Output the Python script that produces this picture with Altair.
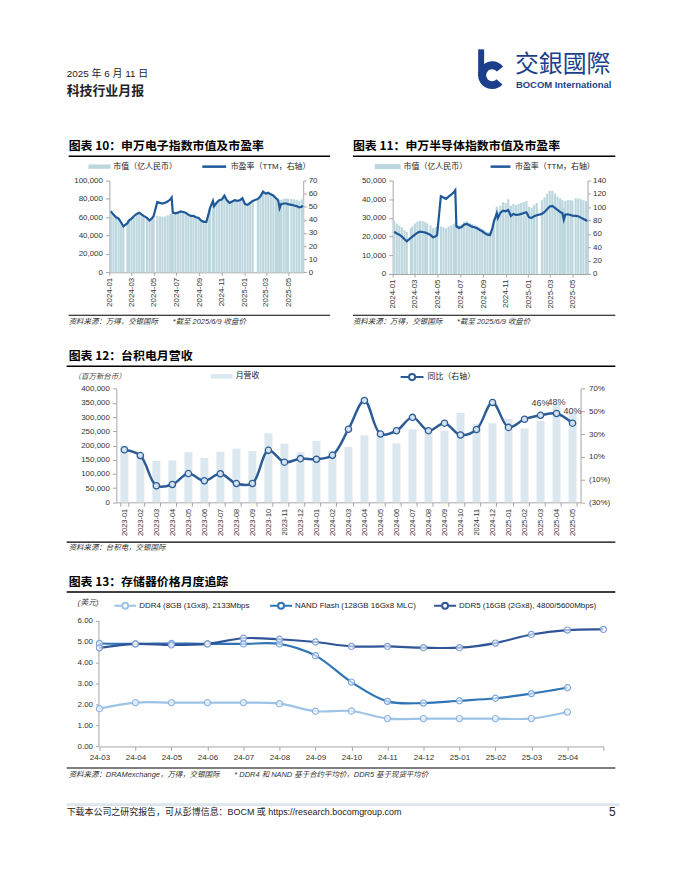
import math
import altair as alt
import pandas as pd

# ---------------- data ----------------
dates = ["2024-01-05","2024-01-12","2024-01-19","2024-01-26","2024-02-02","2024-02-08","2024-02-19","2024-02-23",
         "2024-03-01","2024-03-08","2024-03-15","2024-03-22","2024-03-29","2024-04-03","2024-04-12","2024-04-19",
         "2024-04-26","2024-04-30","2024-05-10","2024-05-17","2024-05-24","2024-05-31","2024-06-07","2024-06-14",
         "2024-06-18","2024-06-21","2024-06-28","2024-07-05","2024-07-12","2024-07-19","2024-07-26","2024-08-02",
         "2024-08-09","2024-08-16","2024-08-23","2024-08-30","2024-09-06","2024-09-13","2024-09-20","2024-09-27",
         "2024-09-30","2024-10-08","2024-10-11","2024-10-18","2024-10-25","2024-11-01","2024-11-08","2024-11-15",
         "2024-11-22","2024-11-29","2024-12-06","2024-12-13","2024-12-20","2024-12-27","2025-01-03","2025-01-10",
         "2025-01-17","2025-01-24","2025-02-07","2025-02-14","2025-02-21","2025-02-28","2025-03-07","2025-03-14",
         "2025-03-21","2025-03-28","2025-04-03","2025-04-07","2025-04-11","2025-04-18","2025-04-25","2025-04-30",
         "2025-05-09","2025-05-16","2025-05-23","2025-05-30","2025-06-06","2025-06-09"]

mc10 = [68000, 63500, 60500, 59000, 54500, 50500, 54000, 57000, 59000, 61500,
        63500, 65000, 63000, 61500, 59500, 56500, 59500, 61000, 61500, 61000,
        60500, 61000, 62000, 63000, 64000, 64500, 64000, 65000, 66000, 65500,
        65000, 63000, 61500, 61500, 60000, 59500, 56500, 55000, 55000, 65000,
        70000, 78000, 72000, 75500, 78500, 79500, 83500, 78500, 76000, 77000,
        78500, 78000, 78500, 80500, 75000, 74500, 76500, 78500, 81000, 84000,
        89000, 87000, 88000, 86500, 85000, 82500, 80500, 75000, 79000, 80000,
        80500, 80000, 80000, 79500, 79000, 77500, 78500, 80000]
pe10 = [46.5, 44, 42, 41, 38, 35, 37.5, 39.5, 41, 43,
        44.5, 45.5, 44, 43, 41.5, 39.5, 41.5, 43, 53.5, 53,
        52.5, 53, 54, 55.5, 57, 45.5, 45, 45.5, 46.5, 46,
        45.5, 44, 43, 43, 42, 41.5, 39.5, 38.5, 38.5, 45.5,
        49, 54.5, 50.5, 53, 55, 55.5, 58.5, 55, 53, 54,
        55, 54.5, 55, 56.5, 52, 51.5, 53, 54.5, 56, 58,
        61.5, 60, 60.5, 59.5, 58.5, 56.5, 55, 49, 52, 52.5,
        52.5, 52, 51.5, 51, 50.5, 49.5, 50, 51]
mc11 = [28500, 27000, 26000, 25000, 23500, 22500, 24500, 25500, 27000, 28000,
        28500, 28300, 27800, 27000, 26000, 24500, 25000, 25500, 25500, 25000,
        24500, 25500, 26000, 26800, 27500, 26500, 26000, 26500, 28000, 28300,
        27500, 26800, 26300, 25800, 25000, 24300, 23300, 22500, 22300, 27000,
        30000, 36000, 33000, 36500, 38500, 38000, 40000, 36500, 37500, 37000,
        37500, 38000, 38500, 39000, 36000, 35500, 37000, 38000, 39500, 41000,
        43000, 44500, 44500, 43000, 41500, 40500, 39500, 35500, 39000, 39500,
        39500, 39300, 40500, 40500, 40000, 39500, 39000, 38500]
pe11 = [63.5, 60.5, 59, 56, 52, 49, 54, 56, 59, 62,
        63.5, 63, 62, 61, 58.5, 55, 56.5, 58.5, 116.5, 114.5,
        112.5, 116, 119, 122.5, 125.5, 71.5, 69, 70.5, 74, 75,
        73, 71, 70, 68.5, 66, 64, 61, 59, 58.5, 70,
        78, 91, 84, 92, 95, 94, 96, 87, 90, 88.5,
        89, 90, 91.5, 92.5, 85, 84, 86.5, 88, 90, 93,
        97, 101, 102, 99, 96, 93, 91.5, 81.5, 89, 89.5,
        88.5, 87.5, 87, 86.5, 84.5, 82.5, 80.5, 79]
ticks10 = ["2024-01", "2024-03", "2024-05", "2024-07", "2024-09", "2024-11", "2025-01", "2025-03", "2025-05"]

months12 = ["2023-01","2023-02","2023-03","2023-04","2023-05","2023-06","2023-07","2023-08","2023-09","2023-10",
            "2023-11","2023-12","2024-01","2024-02","2024-03","2024-04","2024-05","2024-06","2024-07","2024-08",
            "2024-09","2024-10","2024-11","2024-12","2025-01","2025-02","2025-03","2025-04","2025-05"]
rev12 = [200051, 163174, 145408, 147899, 176537, 156404, 177616, 188686, 180430, 243203,
         206026, 176300, 215785, 181648, 195211, 236021, 229620, 207869, 256953, 250866,
         251873, 314240, 276058, 278163, 293288, 260009, 285957, 349567, 320516]
yoy12 = [16.2, 11.1, -15.4, -14.3, -4.7, -11.1, -4.9, -13.5, -13.4, 15.7,
         5.3, 8.4, 7.9, 11.3, 34.3, 59.6, 30.1, 32.9, 44.7, 33.0,
         39.6, 29.2, 34.0, 57.8, 35.9, 43.1, 46.5, 48.1, 39.6]
ann_months12 = ["2025-03", "2025-04", "2025-05"]
ann_labels12 = ["46%", "48%", "40%"]

months13 = ["24-03","24-04","24-05","24-06","24-07","24-08","24-09","24-10","24-11","24-12",
            "25-01","25-02","25-03","25-04","25-05"]
ddr4 = [1.80, 2.09, 2.09, 2.09, 2.09, 2.04, 1.68, 1.69, 1.33, 1.33, 1.33, 1.33, 1.33, 1.64]
nand = [4.91, 4.89, 4.91, 4.89, 4.89, 4.89, 4.33, 3.07, 2.15, 2.07, 2.18, 2.30, 2.52, 2.80]
ddr5 = [4.70, 4.89, 4.84, 4.89, 5.16, 5.11, 4.98, 4.77, 4.77, 4.71, 4.71, 4.93, 5.34, 5.55, 5.58]
names13 = ["DDR4 (8GB (1Gx8), 2133Mbps", "NAND Flash (128GB 16Gx8 MLC)", "DDR5 (16GB (2Gx8), 4800/5600Mbps)"]

# ---------------- style ----------------
W, H = 664, 864
CJK = "Noto Sans CJK SC"
LAT = "Liberation Sans"
MIX = "Liberation Sans, Noto Sans CJK SC"
BAR10 = "#bcd7de"
LINE10 = "#1f5898"
BAR12 = "#dce8ef"
LINE12 = "#2c5c96"
C13 = ["#9dc3e6", "#2e75b6", "#2f5597"]
M13 = ["#8fb5e2", "#78a6dc", "#7f9ed3"]
NAVY = "#1b3f8b"
RECT = "M-1,-0.2H1V0.2H-1Z"
CIRC = "M-1,0H-0.27M0.27,0H1M-0.27,0A0.27,0.27,0,1,1,0.27,0A0.27,0.27,0,1,1,-0.27,0"


def ax(orient, pos, **kw):
    if orient == "left":
        off = -pos
    elif orient == "right":
        off = pos - W
    else:
        off = pos - H
    base = dict(orient=orient, offset=off, title=None, grid=False, labelFont=LAT, labelFontSize=8,
                labelColor="#333", domainColor="#a6a6a6", tickColor="#a6a6a6")
    base.update(kw)
    return alt.Axis(**base)


def leg(x, yc, size, sw, stype, offset=3):
    h = math.ceil(math.sqrt(size) + sw)
    return alt.Legend(orient="none", legendX=x, legendY=yc - h / 2, direction="horizontal", title=None,
                      symbolType=stype, symbolSize=size, symbolStrokeWidth=sw, symbolOpacity=1,
                      labelFont=MIX, labelFontSize=8, labelColor="#222", labelOffset=offset, padding=0)


def txt(s, x, y, size=8, weight="normal", style="normal", color="#222", font=MIX, align="left"):
    return alt.Chart(pd.DataFrame({"t": [s]})).mark_text(
        align=align, baseline="middle", fontSize=size, fontWeight=weight, fontStyle=style,
        color=color, font=font).encode(x=alt.value(x), y=alt.value(y), text="t:N")


def hrule(x1, x2, y, width=1.3, color="#000"):
    return alt.Chart(pd.DataFrame({"a": [0]})).mark_rule(color=color, strokeWidth=width).encode(
        x=alt.value(x1), x2=alt.value(x2), y=alt.value(y))


layers = []

# ---------------- header ----------------
layers += [
    txt("2025 年 6 月 11 日", 55, 64, size=10),
    txt("科技行业月报", 55, 81, size=13, weight="bold", font=CJK),
    alt.Chart(pd.DataFrame({"a": [0]})).mark_arc(radius=14, radius2=6, theta=2.3, theta2=7.2, color=NAVY)
       .encode(x=alt.value(483), y=alt.value(65)),
    alt.Chart(pd.DataFrame({"a": [0]})).mark_rule(color=NAVY, strokeWidth=6)
       .encode(x=alt.value(472), y=alt.value(39), y2=alt.value(66)),
    txt("交銀國際", 506, 55, size=24, color=NAVY, font="Noto Sans CJK TC"),
    txt("BOCOM International", 507, 75, size=9.5, weight="bold", color=NAVY, font=LAT),
]

# ---------------- charts 10 & 11 ----------------
xdom = [alt.DateTime(year=2024, month=1, date=1), alt.DateTime(year=2025, month=6, date=10)]
tickvals = [alt.DateTime(year=int(s[:4]), month=int(s[5:]), date=1) for s in ticks10]


def market_chart(mc, pe, x0, x1, ybot, ytop, mcmax, mcstep, pemax, pestep, lbx, lbw, llx, llw, ly):
    df = pd.DataFrame({"d": pd.to_datetime(dates), "mc": mc, "pe": pe,
                       "s1": "市值（亿人民币）", "s2": "市盈率（TTM，右轴）"})
    xs = alt.Scale(domain=xdom, range=[x0, x1], padding=0, nice=False)
    bars = alt.Chart(df).mark_bar(size=2.2).encode(
        x=alt.X("d:T", scale=xs, axis=ax("bottom", ybot, values=tickvals, format="%Y-%m", labelAngle=270,
                                         labelFlush=False, labelOverlap=False, tickSize=3, labelPadding=2)),
        y=alt.Y("mc:Q", scale=alt.Scale(domain=[0, mcmax], range=[ybot, ytop], nice=False),
                axis=ax("left", x0, values=list(range(0, mcmax + 1, mcstep)), format=",.0f", tickSize=4,
                        labelPadding=3)),
        color=alt.Color("s1:N", scale=alt.Scale(domain=["市值（亿人民币）"], range=[BAR10]),
                        legend=leg(lbx, ly, lbw ** 2, 0, RECT)))
    line = alt.Chart(df).mark_line(strokeWidth=2.2).encode(
        x=alt.X("d:T", scale=xs, axis=None),
        y=alt.Y("pe:Q", scale=alt.Scale(domain=[0, pemax], range=[ybot, ytop], nice=False),
                axis=ax("right", x1, values=list(range(0, pemax + 1, pestep)), tickSize=3, labelPadding=2)),
        color=alt.Color("s2:N", scale=alt.Scale(domain=["市盈率（TTM，右轴）"], range=[LINE10]),
                        legend=leg(llx, ly, llw ** 2, 2.5, "stroke")))
    return [bars, line]


layers += market_chart(mc10, pe10, 98, 293, 263.3, 171, 100000, 20000, 70, 10, 77, 22, 190, 24, 157)
layers += market_chart(mc11, pe11, 383, 579, 265, 171, 50000, 10000, 140, 20, 365, 26, 480, 20, 157)

src10 = "资料来源：万得，交银国际\u3000\u3000*截至 2025/6/9 收盘价"
layers += [
    txt("图表 10：申万电子指数市值及市盈率", 57, 136, size=12, weight="bold", font=CJK, color="#000"),
    hrule(57, 320, 146.5, 1.5),
    hrule(57, 320, 306.5, 1.2),
    txt(src10, 57, 313, size=7.5, style="italic", color="#333"),
    txt("图表 11：申万半导体指数市值及市盈率", 343, 136, size=12, weight="bold", font=CJK, color="#000"),
    hrule(343, 607, 146.5, 1.5),
    hrule(343, 607, 306.5, 1.2),
    txt(src10, 343, 313, size=7.5, style="italic", color="#333"),
]

# ---------------- chart 12 ----------------
df12 = pd.DataFrame({"m": months12, "rev": rev12, "yoy": yoy12, "s1": "月营收", "s2": "同比（右轴）"})
xb12 = alt.Scale(type="band", domain=months12, range=[105, 572], paddingInner=0.5, paddingOuter=0.25)
xp12 = alt.Scale(type="point", domain=months12, range=[105, 572], padding=0.5)
yl12 = alt.Scale(domain=[0, 400000], range=[494.7, 380.3], nice=False)
yr12 = alt.Scale(domain=[-30, 70], range=[494.7, 380.3], nice=False)
pct_expr = "datum.value < 0 ? '(' + (-datum.value) + '%)' : datum.value + '%'"

bars12 = alt.Chart(df12).mark_bar().encode(
    x=alt.X("m:O", scale=xb12, axis=ax("bottom", 494.7, labelAngle=270, tickBand="extent", tickSize=4,
                                       labelPadding=2, labelFontSize=7.5)),
    y=alt.Y("rev:Q", scale=yl12, axis=ax("left", 105, values=list(range(0, 400001, 50000)), format=",.0f",
                                        tickSize=4, labelPadding=3)),
    color=alt.Color("s1:N", scale=alt.Scale(domain=["月营收"], range=[BAR12]), legend=leg(200, 368, 484, 0, RECT)))
line12 = alt.Chart(df12).mark_line(interpolate="catmull-rom", strokeWidth=2.5).encode(
    x=alt.X("m:O", scale=xp12, axis=None),
    y=alt.Y("yoy:Q", scale=yr12, axis=ax("right", 572, values=[-30, -10, 10, 30, 50, 70], labelExpr=pct_expr,
                                        tickSize=4, labelPadding=4)),
    color=alt.Color("s2:N", scale=alt.Scale(domain=["同比（右轴）"], range=[LINE12]),
                    legend=leg(390, 368.7, 529, 2, CIRC)))
pts12 = alt.Chart(df12).mark_point(shape="circle", filled=True, fill="#d5e1ef", stroke=LINE12, strokeWidth=1.3,
                                   size=40, opacity=1).encode(
    x=alt.X("m:O", scale=xp12, axis=None), y=alt.Y("yoy:Q", scale=yr12, axis=None))
dfa = pd.DataFrame({"m": ann_months12, "lab": ann_labels12,
                    "yoy": [yoy12[months12.index(m)] for m in ann_months12]})
ann12 = alt.Chart(dfa).mark_text(dy=-12, fontSize=9, font=LAT, color="#404040").encode(
    x=alt.X("m:O", scale=xp12, axis=None), y=alt.Y("yoy:Q", scale=yr12, axis=None), text="lab:N")
layers += [bars12, line12, pts12, ann12]
layers += [
    txt("图表 12：台积电月营收", 57, 348, size=12, weight="bold", font=CJK, color="#000"),
    hrule(55, 607, 357.7, 1.5),
    txt("（百万新台币）", 62, 369, size=7.5, style="italic", color="#444", font=CJK),
    hrule(55, 607, 534.7, 1.2),
    txt("资料来源：台积电，交银国际", 57, 540.5, size=7.5, style="italic", color="#333"),
]

# ---------------- chart 13 ----------------
x13 = alt.Scale(type="point", domain=months13, range=[88, 595], padding=0)
y13 = alt.Scale(domain=[0, 6], range=[740.3, 613.7], nice=False)
legx13 = [102, 258.7, 423.7]
lines13, pts13 = [], []
for i, vals in enumerate([ddr4, nand, ddr5]):
    df = pd.DataFrame({"m": months13[:len(vals)], "v": vals, "s": names13[i]})
    if i == 0:
        xa = ax("bottom", 740.3, labelExpr="datum.label == '25-05' ? '' : datum.label", tickSize=4,
                labelPadding=3, labelAngle=0)
        ya = ax("left", 87, values=[0, 1, 2, 3, 4, 5, 6], format=".2f", tickSize=3, labelPadding=3)
    else:
        xa = None
        ya = None
    lines13.append(alt.Chart(df).mark_line(interpolate="catmull-rom", strokeWidth=2.2).encode(
        x=alt.X("m:O", scale=x13, axis=xa), y=alt.Y("v:Q", scale=y13, axis=ya),
        color=alt.Color("s:N", scale=alt.Scale(domain=[names13[i]], range=[C13[i]]),
                        legend=leg(legx13[i], 598.7, 484, 2, CIRC, offset=2))))
    pts13.append(alt.Chart(df).mark_point(shape="circle", filled=True, fill="white", fillOpacity=0.6,
                                          stroke=M13[i], strokeWidth=1.2, size=38, opacity=1).encode(
        x=alt.X("m:O", scale=x13, axis=None), y=alt.Y("v:Q", scale=y13, axis=None)))
layers += lines13 + pts13
layers += [
    txt("图表 13：存储器价格月度追踪", 57, 575.3, size=12, weight="bold", font=CJK, color="#000"),
    hrule(55, 607, 585, 1.5),
    txt("(美元)", 66, 595.5, size=8, style="italic", color="#444"),
    hrule(55, 607, 762, 1.2),
    txt("资料来源：DRAMexchange，万得，交银国际\u3000\u3000* DDR4 和 NAND 基于合约平均价，DDR5 基于现货平均价",
        57, 768.7, size=7.5, style="italic", color="#333"),
]

# ---------------- footer ----------------
layers += [
    hrule(55, 611, 799, 3, "#dde6ea"),
    txt("下载本公司之研究报告，可从彭博信息：BOCM 或 https://research.bocomgroup.com", 55, 806, size=9),
    txt("5", 604, 806, size=12, font=LAT, align="center"),
]

chart = alt.layer(*layers).properties(width=W, height=H, padding=0).resolve_scale(
    x="independent", y="independent", color="independent").resolve_legend(color="independent").configure_view(
    strokeWidth=0).configure_axis(grid=False)

chart.save("out.html", embed_options={"renderer": "svg", "actions": False})
